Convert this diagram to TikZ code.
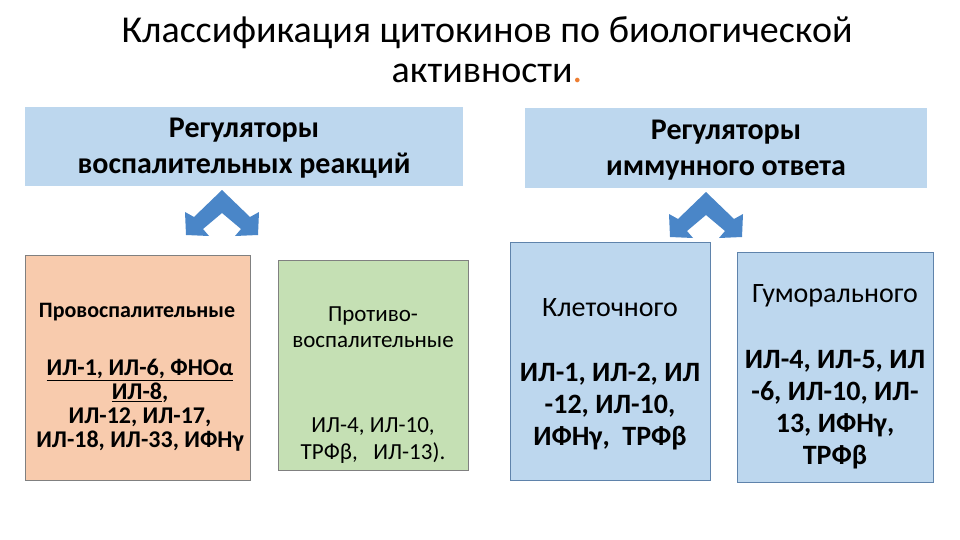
\documentclass[tikz,border=0pt]{standalone}
\usepackage{fontspec}
\setmainfont{Carlito}
\definecolor{hdr}{HTML}{BDD7EE}
\definecolor{peach}{HTML}{F8CBAD}
\definecolor{pgreen}{HTML}{C5E0B4}
\definecolor{arr}{HTML}{4A86C8}
\definecolor{dot}{HTML}{ED7D31}
\tikzset{
  txt/.style={align=center, inner sep=0pt},
  bentarrow/.pic={\fill[arr] (0,0) -- (28,27) -- (37,22) -- (36,45) -- (13,46) -- (19,39) -- (0,23)
      -- (-19,39) -- (-13,46) -- (-36,45) -- (-37,22) -- (-28,27) -- cycle;},
}
\begin{document}
\begin{tikzpicture}[x=1pt,y=-1pt]
\useasboundingbox (0,0) rectangle (960,540);
\fill[white] (0,0) rectangle (960,540);
\node[txt, font=\fontsize{38}{40}\selectfont] (title) at (487,50) {Классификация цитокинов по биологической\\активности{\color{dot}.}};
% header boxes
\fill[hdr] (25,107) rectangle (463,186);
\node[txt, font=\bfseries\fontsize{30}{36}\selectfont] (h1) at (244,148) {Регуляторы\\воспалительных реакций};
\fill[hdr] (525,108) rectangle (927,188);
\node[txt, font=\bfseries\fontsize{30}{36}\selectfont] (h2) at (726,150) {Регуляторы\\иммунного ответа};
% arrows
\pic at (222,190) {bentarrow};
\pic at (706,192) {bentarrow};
% boxes
\filldraw[fill=peach, draw=gray] (25,255) rectangle (250,480);
\node[txt, font=\bfseries\fontsize{22}{24}\selectfont] (p1) at (137,312) {Провоспалительные};
\node[txt, font=\bfseries\fontsize{24}{24}\selectfont] (p2) at (140,405) {\underline{ИЛ-1, ИЛ-6, ФНОα}\\\underline{ИЛ-8},\\ИЛ-12, ИЛ-17,\\ИЛ-18, ИЛ-33, ИФНγ};
\filldraw[fill=pgreen, draw=gray] (278,260) rectangle (468,470);
\node[txt, font=\fontsize{23}{26}\selectfont] (g1) at (373,327) {Противо-\\воспалительные};
\node[txt, font=\fontsize{23}{27}\selectfont] (g2) at (373,441) {ИЛ-4, ИЛ-10,\\ТРФβ,\ \ \ ИЛ-13).};
\filldraw[fill=hdr, draw=arr!60!gray] (510,242) rectangle (710,480);
\node[txt, font=\fontsize{28}{30}\selectfont] (c1) at (610,308) {Клеточного};
\node[txt, font=\bfseries\fontsize{28}{32}\selectfont] (c2) at (610,407) {ИЛ-1, ИЛ-2, ИЛ\\-12, ИЛ-10,\\ИФНγ,\ \ ТРФβ};
\filldraw[fill=hdr, draw=arr!60!gray] (737,252) rectangle (933,482);
\node[txt, font=\fontsize{28}{30}\selectfont] (u1) at (835,296) {Гуморального};
\node[txt, font=\bfseries\fontsize{28}{32}\selectfont] (u2) at (835,410) {ИЛ-4, ИЛ-5, ИЛ\\-6, ИЛ-10, ИЛ-\\13, ИФНγ,\\ТРФβ};
\end{tikzpicture}
\end{document}
